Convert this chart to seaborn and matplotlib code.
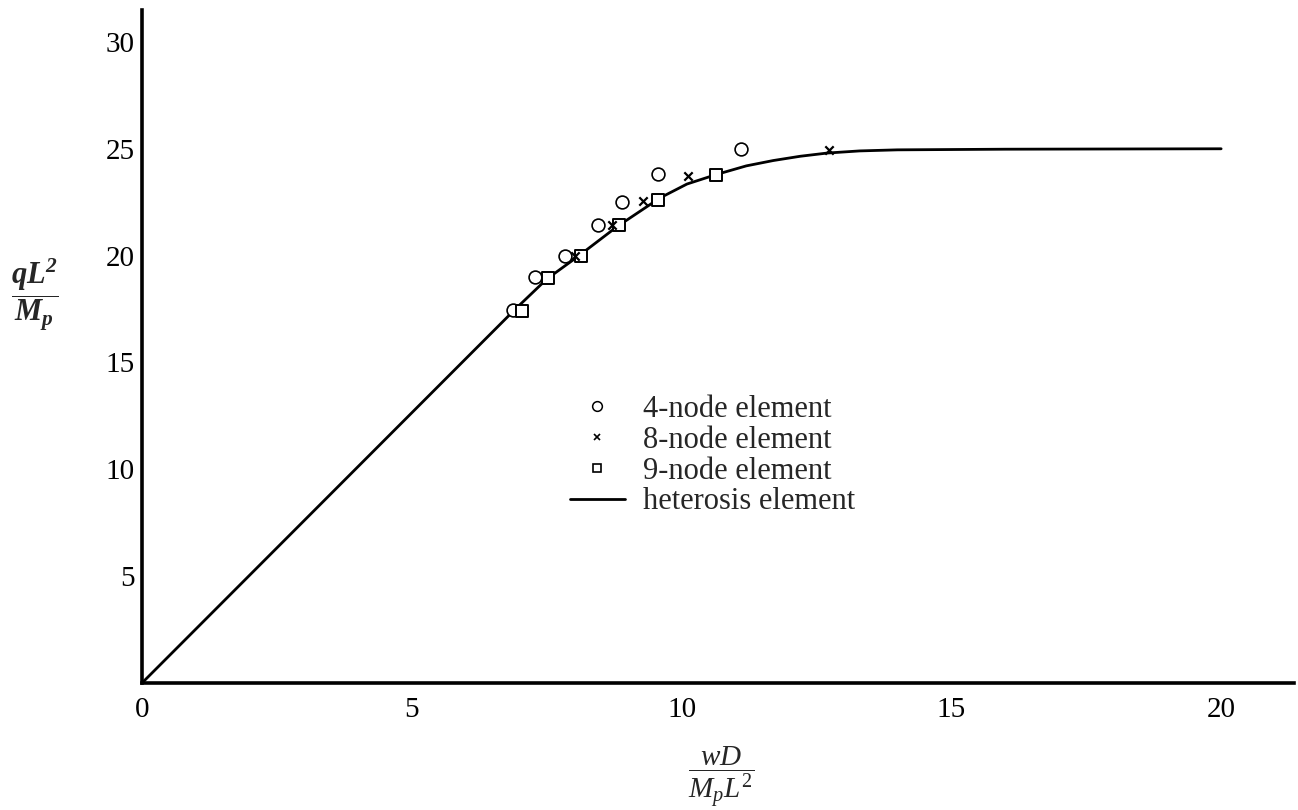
import matplotlib
matplotlib.use('Agg')
import matplotlib.pyplot as plt
from matplotlib.lines import Line2D
import seaborn as sns
import pandas as pd

# 4-node element
x_4node = [6.87, 7.29, 7.84, 8.45, 8.89, 9.57, 11.10]
y_4node = [17.45, 19.0, 20.0, 21.45, 22.5, 23.8, 25.0]

# 8-node element
x_8node = [8.02, 8.71, 9.28, 10.11, 12.73]
y_8node = [20.0, 21.43, 22.56, 23.74, 24.96]

# 9-node element
x_9node = [7.05, 7.53, 8.14, 8.84, 9.56, 10.64]
y_9node = [17.42, 18.94, 19.97, 21.43, 22.61, 23.79]

# heterosis element (curve)
x_het = [0, 6.9, 7.5, 8.1, 8.8, 9.6, 10.1, 10.65, 11.2, 11.7, 12.2, 12.7, 13.3, 14.0, 16.0, 20.0]
y_het = [0, 17.45, 18.9, 20.0, 21.35, 22.7, 23.35, 23.8, 24.2, 24.45, 24.65, 24.8, 24.9, 24.95, 24.98, 25.0]

x_ticks = [0, 5, 10, 15, 20]
y_ticks = [5, 10, 15, 20, 25, 30]

sns.set_style('white')
plt.rcParams['font.family'] = ['Liberation Serif', 'DejaVu Serif']
plt.rcParams['mathtext.fontset'] = 'custom'
plt.rcParams['mathtext.rm'] = 'Liberation Serif'
plt.rcParams['mathtext.it'] = 'Liberation Serif:italic'
plt.rcParams['mathtext.bf'] = 'Liberation Serif:bold:italic'

fig = plt.figure(figsize=(12.98, 8.10), dpi=100)
ax = fig.add_axes([0.1094, 0.1568, 0.8875, 0.831])

het = pd.DataFrame({'x': x_het, 'y': y_het})
sns.lineplot(data=het, x='x', y='y', color='black', linewidth=2.0, ax=ax, zorder=2)

sns.scatterplot(x=x_4node, y=y_4node, marker='o', s=85, facecolor='white',
                edgecolor='black', linewidth=1.2, ax=ax, zorder=3)
sns.scatterplot(x=x_9node, y=y_9node, marker='s', s=64, facecolor='white',
                edgecolor='black', linewidth=1.4, ax=ax, zorder=3)
sns.scatterplot(x=x_8node, y=y_8node, marker='x', s=36, color='black',
                linewidth=1.6, ax=ax, zorder=4)

ax.set_xlim(0, 21.35)
ax.set_ylim(0, 31.5)
ax.set_xticks(x_ticks)
ax.set_yticks(y_ticks)
ax.tick_params(axis='both', direction='in', labelsize=21, width=1.3, colors='black')
ax.tick_params(axis='x', length=8, pad=10)
ax.tick_params(axis='y', length=6, pad=5)

sns.despine(ax=ax)
for side in ['left', 'bottom']:
    ax.spines[side].set_linewidth(2.6)
    ax.spines[side].set_color('black')

ax.set_xlabel(r'$\dfrac{wD}{M_pL^2}$', fontsize=21, labelpad=0)
ax.xaxis.set_label_coords(0.503, -0.14)
ax.xaxis.label.set_va('center')
ax.set_ylabel(r'$\dfrac{\mathbf{qL^2}}{\mathbf{M_p}}$', fontsize=22, rotation=0)
ax.yaxis.set_label_coords(-0.093, 0.577)
ax.yaxis.label.set_va('center')
ax.yaxis.label.set_ha('center')

handles = [
    Line2D([], [], marker='o', linestyle='none', markersize=7, markerfacecolor='white',
           markeredgecolor='black', markeredgewidth=1.1),
    Line2D([], [], marker='x', linestyle='none', markersize=5, color='black',
           markeredgewidth=1.2),
    Line2D([], [], marker='s', linestyle='none', markersize=6, markerfacecolor='white',
           markeredgecolor='black', markeredgewidth=1.2),
    Line2D([], [], color='black', linewidth=2.0),
]
labels = ['4-node element', '8-node element', '9-node element', 'heterosis element']
ax.legend(handles, labels, loc='upper left', bbox_to_anchor=(0.3715, 0.428),
          frameon=False, fontsize=22, handlelength=1.8, handletextpad=0.6,
          labelspacing=0.06, borderpad=0, borderaxespad=0)

fig.savefig('out.png', dpi=100)
